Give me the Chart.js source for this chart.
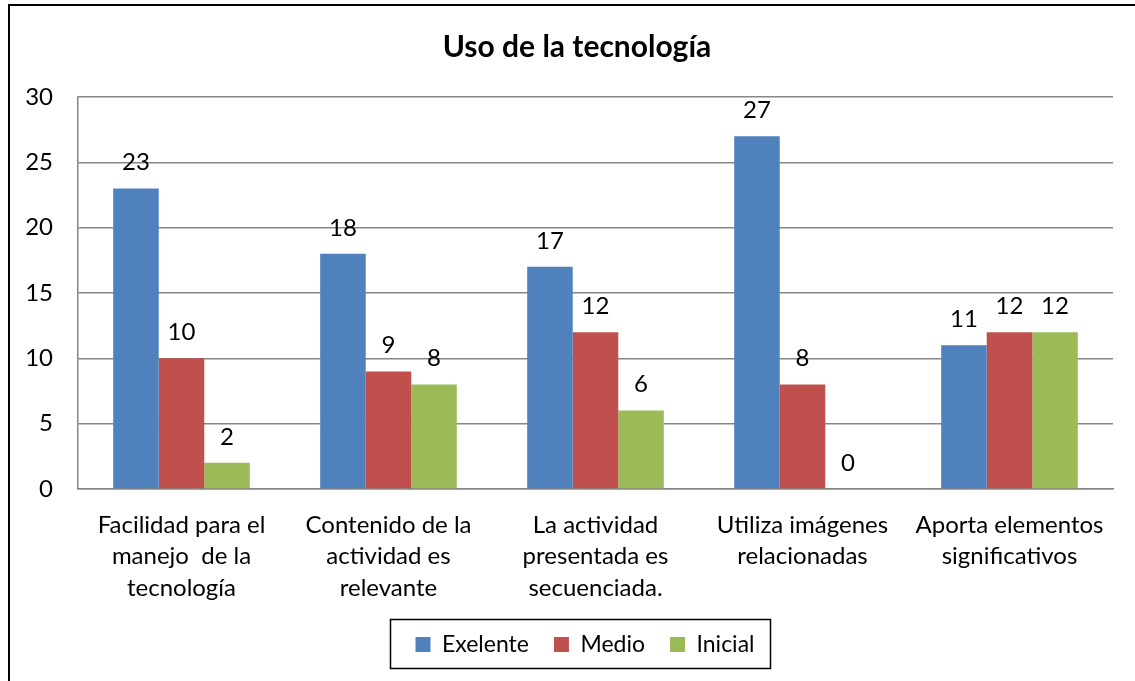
<!DOCTYPE html>
<html>
<head>
<meta charset="utf-8">
<script src="https://cdn.jsdelivr.net/npm/chart.js@4/dist/chart.umd.min.js"></script>
<style>
html,body{margin:0;padding:0;background:#fff;}
canvas{display:block;}
</style>
</head>
<body>
<canvas id="c" width="1135" height="681"></canvas>
<script>
const categories = [
  ["Facilidad para el", "manejo  de la", "tecnología"],
  ["Contenido de la", "actividad es", "relevante"],
  ["La actividad", "presentada es", "secuenciada."],
  ["Utiliza imágenes", "relacionadas"],
  ["Aporta elementos", "significativos"]
];
const exelente = [23, 18, 17, 27, 11];
const medio = [10, 9, 12, 8, 12];
const inicial = [2, 8, 6, 0, 12];
const seriesNames = ["Exelente", "Medio", "Inicial"];
const yTicks = [0, 5, 10, 15, 20, 25, 30];

const FONT = "Lato, 'Open Sans', sans-serif";
const GRID = '#868686';

const framePlugin = {
  id: 'frame',
  beforeDraw(chart) {
    const ctx = chart.ctx;
    ctx.save();
    ctx.fillStyle = '#fff';
    ctx.fillRect(0, 0, chart.width, chart.height);
    ctx.strokeStyle = '#000';
    ctx.lineWidth = 2;
    ctx.strokeRect(9, 5, 1140, 700);
    ctx.restore();
  },
  afterLayout(chart) {
    const lg = chart.legend;
    if (lg) { lg.left += 24; lg.right += 24; }
    const t = chart.titleBlock;
    if (t) { t.left += 16; t.right += 16; }
  },
  afterDraw(chart) {
    const lg = chart.legend;
    if (!lg || !lg.legendHitBoxes || !lg.legendHitBoxes.length) return;
    const hb = lg.legendHitBoxes;
    const first = hb[0], last = hb[hb.length - 1];
    const cy = first.top + first.height / 2;
    const ctx = chart.ctx;
    ctx.save();
    ctx.strokeStyle = '#000';
    ctx.lineWidth = 1.5;
    ctx.strokeRect(Math.round(first.left - 25) + 0.5, Math.round(cy - 26) + 0.5,
      Math.round(last.left + last.width + 16 - (first.left - 25)), 49);
    ctx.restore();
  }
};

const labelPlugin = {
  id: 'valueLabels',
  afterDatasetsDraw(chart) {
    const ctx = chart.ctx;
    ctx.save();
    ctx.font = '24px ' + FONT;
    ctx.fillStyle = '#000';
    ctx.textAlign = 'center';
    ctx.textBaseline = 'middle';
    chart.data.datasets.forEach((ds, i) => {
      const meta = chart.getDatasetMeta(i);
      meta.data.forEach((el, j) => {
        ctx.fillText(String(ds.data[j]), el.x, el.y - 26);
      });
    });
    ctx.restore();
  }
};

new Chart(document.getElementById('c'), {
  type: 'bar',
  data: {
    labels: categories,
    datasets: [
      { label: seriesNames[0], data: exelente, backgroundColor: '#4F81BD', borderWidth: 0 },
      { label: seriesNames[1], data: medio, backgroundColor: '#C0504D', borderWidth: 0 },
      { label: seriesNames[2], data: inicial, backgroundColor: '#9BBB59', borderWidth: 0 }
    ]
  },
  options: {
    responsive: false,
    devicePixelRatio: 1,
    animation: false,
    layout: { padding: { left: 9, right: 22, top: 0, bottom: 15 } },
    datasets: { bar: { categoryPercentage: 0.66, barPercentage: 1.0 } },
    scales: {
      x: {
        grid: { display: false, drawTicks: false },
        border: { color: GRID, width: 1.5 },
        ticks: { color: '#000', font: { family: FONT, size: 24, lineHeight: 1.32 }, padding: 20, maxRotation: 0, autoSkip: false },
        afterFit(s) { s.height = 119; }
      },
      y: {
        min: 0, max: 30,
        afterBuildTicks(s) { s.ticks = yTicks.map(v => ({ value: v })); },
        grid: { color: GRID, lineWidth: 1.5, drawTicks: false },
        border: { color: GRID, width: 1.5 },
        ticks: { color: '#000', font: { family: FONT, size: 24 }, padding: 25 },
        afterFit(s) { s.width = 69; }
      }
    },
    plugins: {
      title: {
        display: true,
        text: 'Uso de la tecnología',
        color: '#000',
        font: { family: FONT, size: 30, weight: 'bold', lineHeight: 1.2 },
        padding: { top: 29, bottom: 32 }
      },
      legend: {
        position: 'bottom',
        labels: { color: '#000', font: { family: FONT, size: 23 }, boxWidth: 15, boxHeight: 15, padding: 25 }
      },
      tooltip: { enabled: false }
    }
  },
  plugins: [framePlugin, labelPlugin]
});
</script>
</body>
</html>
